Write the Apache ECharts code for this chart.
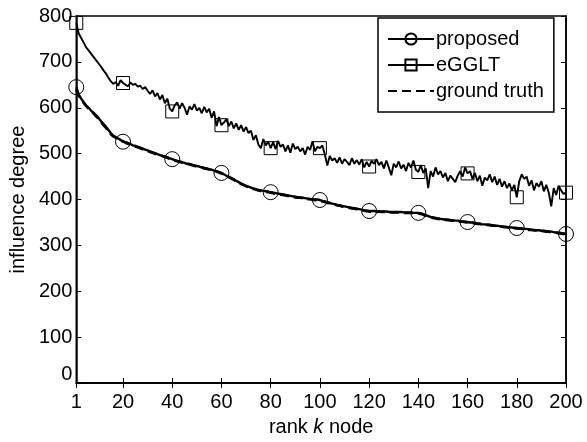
<!DOCTYPE html>
<html>
<head>
<meta charset="utf-8">
<script src="https://cdn.jsdelivr.net/npm/echarts@6/dist/echarts.min.js"></script>
<style>html,body{margin:0;padding:0;background:#fff}#c{width:587px;height:442px}</style>
</head>
<body>
<div id="c"></div>
<script>
const xTicks = [1, 20, 40, 60, 80, 100, 120, 140, 160, 180, 200];
const yTicks = [0, 100, 200, 300, 400, 500, 600, 700, 800];
const markerRanks = [1, 20, 40, 60, 80, 100, 120, 140, 160, 180, 200];
const seriesNames = ['proposed', 'eGGLT', 'ground truth'];

const proposed = [
645,628,620,612,605,600,594,589,584,578,
571,565,559,552,545,539,536,533,530,526,
525,523,521,518,517,515,513,511,509,507,
505,503,501,499,497,495,494,492,490,488,
486,484,483,481,480,478,477,476,474,473,
472,470,469,468,466,465,463,462,460,458,
455,452,449,447,444,441,438,435,432,430,
428,426,424,422,421,420,419,418,417,416,
415,414,413,412,411,410,409,408,407,406,
405,404,404,403,402,401,401,400,400,399,
397,396,394,393,391,390,388,387,386,385,
384,383,382,381,380,379,378,377,376,375,
375,375,374,374,374,374,374,373,373,373,
373,373,373,372,372,372,372,371,371,371,
370,368,366,364,362,361,360,359,358,357,
356,356,355,355,354,354,353,352,352,351,
350,350,349,348,347,346,346,345,345,344,
343,343,342,341,341,340,340,339,338,338,
337,337,336,336,335,334,334,333,333,332,
332,331,330,330,329,328,328,327,326,325];

const eGGLT = [
785,762,752,742,732,725,718,711,704,697,
690,682,675,666,658,652,656,648,660,654,
650,647,655,650,652,646,648,641,645,637,
630,638,625,632,618,628,610,620,598,592,
605,612,598,610,600,585,603,596,608,594,
600,588,602,590,598,578,592,560,580,562,
568,575,560,570,555,566,552,562,548,558,
545,550,530,540,520,512,532,518,526,512,
525,510,528,515,520,505,518,502,522,510,
515,505,512,498,515,508,527,505,515,512,
518,498,474,495,485,490,480,492,478,488,
482,475,490,478,486,476,488,470,482,472,
484,478,488,475,482,468,485,470,453,478,
470,483,468,476,462,480,470,485,465,460,
475,458,468,425,462,450,470,455,462,448,
458,440,452,445,438,452,462,450,470,457,
462,445,458,440,452,430,448,442,455,438,
450,432,445,428,440,425,435,420,432,405,
440,455,445,450,430,442,420,436,428,440,
418,432,415,385,425,410,430,420,412,415];

const groundTruth = [
640,627,619,611,604,598,593,588,582,576,
569,563,557,550,543,538,535,532,529,527,
524,522,520,519,516,514,512,510,508,506,
504,502,500,498,497,495,493,491,489,487,
485,484,482,481,479,478,477,475,474,472,
471,470,468,467,466,464,463,461,459,457,
454,451,449,446,443,440,437,434,432,429,
427,425,423,422,420,419,418,417,416,415,
414,413,412,411,410,409,408,408,406,405,
404,404,403,402,401,401,400,399,399,398,
396,395,393,392,391,389,388,387,385,384,
383,382,381,380,379,378,377,376,375,374,
374,374,373,374,373,373,373,373,372,372,
372,372,372,371,371,371,371,370,370,370,
369,367,365,363,362,360,359,358,357,356,
356,355,355,354,354,353,352,352,351,350,
350,349,348,347,347,346,345,345,344,343,
343,342,341,341,340,340,339,338,338,337,
337,336,336,335,334,334,333,333,332,331,
331,330,330,329,328,328,327,326,325,324];

const FONT = 'Liberation Sans, Arial, sans-serif';
const FS = 20;

function build(values, sym) {
  return values.map((v, i) => {
    const k = i + 1;
    if (sym && markerRanks.indexOf(k) >= 0) return { value: [k, v] };
    return { value: [k, v], symbol: 'none' };
  });
}

const chart = echarts.init(document.getElementById('c'), null, { renderer: 'canvas' });
const tickStyle = { show: true, inside: true, length: 5, lineStyle: { color: '#000', width: 1 } };

chart.setOption({
  animation: false,
  backgroundColor: '#fff',
  textStyle: { fontFamily: FONT },
  grid: { left: 76, right: 21, top: 16, bottom: 48, show: true, borderColor: '#000', borderWidth: 1.5 },
  legend: {
    orient: 'vertical',
    left: 378, top: 18,
    padding: [11, 10, 11, 9],
    itemWidth: 46, itemHeight: 14, itemGap: 6,
    backgroundColor: '#fff', borderColor: '#000', borderWidth: 1.5, borderRadius: 0,
    textStyle: { fontFamily: FONT, fontSize: FS, lineHeight: 20, color: '#000', padding: [0, 0, 0, -3] },
    data: seriesNames
  },
  xAxis: [{
    type: 'value', min: 1, max: 200,
    axisLine: { show: true, lineStyle: { color: '#000', width: 1.5 } },
    axisTick: Object.assign({ customValues: xTicks }, tickStyle),
    axisLabel: { customValues: xTicks, color: '#000', fontSize: FS, fontFamily: FONT, margin: 9 },
    splitLine: { show: false },
    name: '{a|rank }{k|k}{a| node}', nameLocation: 'middle', nameGap: 31,
    nameTextStyle: { rich: { a: { fontSize: FS, fontFamily: FONT, color: '#000' }, k: { fontSize: FS, fontFamily: FONT, color: '#000', fontStyle: 'italic' } } }
  }, {
    type: 'value', min: 1, max: 200, position: 'top',
    axisLine: { show: true, lineStyle: { color: '#000', width: 1.5 } },
    axisTick: Object.assign({ customValues: xTicks }, tickStyle),
    axisLabel: { show: false }, splitLine: { show: false }
  }],
  yAxis: [{
    type: 'value', min: 0, max: 800, interval: 100,
    axisLine: { show: true, lineStyle: { color: '#000', width: 1.5 } },
    axisTick: tickStyle,
    axisLabel: {
      color: '#000', fontSize: FS, fontFamily: FONT, margin: 4,
      formatter: v => v === 0 ? '{z|0}' : String(v),
      rich: { z: { fontSize: FS, fontFamily: FONT, color: '#000', padding: [0, 0, 18, 0] } }
    },
    splitLine: { show: false },
    name: 'influence degree', nameLocation: 'middle', nameGap: 41,
    nameTextStyle: { fontSize: FS, fontFamily: FONT, color: '#000' }
  }, {
    type: 'value', min: 0, max: 800, interval: 100, position: 'right',
    axisLine: { show: true, lineStyle: { color: '#000', width: 1.5 } },
    axisTick: tickStyle, axisLabel: { show: false }, splitLine: { show: false }
  }],
  series: [{
    name: 'proposed', type: 'line', data: build(proposed, true),
    symbol: 'circle', symbolSize: 15, showAllSymbol: true,
    lineStyle: { color: '#000', width: 2.4 },
    itemStyle: { color: 'rgba(0,0,0,0)', borderColor: '#000', borderWidth: 1 },
    z: 3
  }, {
    name: 'eGGLT', type: 'line', data: build(eGGLT, true),
    symbol: 'rect', symbolSize: 13, showAllSymbol: true,
    lineStyle: { color: '#000', width: 1.9 },
    itemStyle: { color: 'rgba(0,0,0,0)', borderColor: '#000', borderWidth: 1 },
    z: 3
  }, {
    name: 'ground truth', type: 'line', data: build(groundTruth, false),
    symbol: 'circle', showAllSymbol: true,
    lineStyle: { color: '#000', width: 2.8, type: [9, 5] },
    itemStyle: { color: 'rgba(0,0,0,0)', borderColor: 'rgba(0,0,0,0)', borderWidth: 0 },
    z: 4
  }]
});
</script>
</body>
</html>
